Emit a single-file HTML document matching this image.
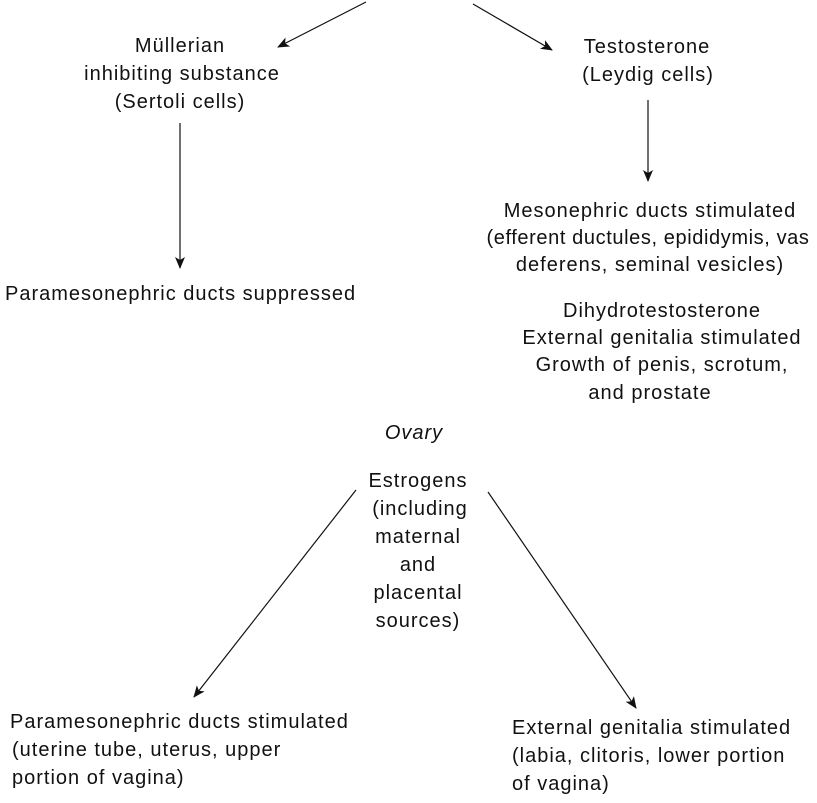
<!DOCTYPE html>
<html><head><meta charset="utf-8"><style>
html,body{margin:0;padding:0;background:#fff;}
svg text{font-family:"Liberation Sans",Arial,sans-serif;font-size:20px;letter-spacing:1px;fill:#111;}
</style></head><body>
<svg width="817" height="798" viewBox="0 0 817 798" xmlns="http://www.w3.org/2000/svg">
<defs><marker id="a" markerWidth="12" markerHeight="10" refX="11" refY="5" orient="auto" markerUnits="userSpaceOnUse"><path d="M0,0 L12,5 L0,10 L3,5 Z" fill="#111"/></marker></defs>
<g stroke="#111" stroke-width="1.2" fill="none">
<line x1="366" y1="2" x2="278" y2="47" marker-end="url(#a)"/>
<line x1="473" y1="4" x2="552" y2="50" marker-end="url(#a)"/>
<line x1="180" y1="123" x2="180" y2="268" marker-end="url(#a)"/>
<line x1="648" y1="100" x2="648" y2="181" marker-end="url(#a)"/>
<line x1="356" y1="490" x2="194" y2="697" marker-end="url(#a)"/>
<line x1="488" y1="492" x2="636" y2="708" marker-end="url(#a)"/>
</g>
<g text-anchor="middle">
<text x="180" y="52">Müllerian</text>
<text x="182" y="80">inhibiting substance</text>
<text x="180" y="108">(Sertoli cells)</text>
<text x="647" y="53">Testosterone</text>
<text x="648" y="81">(Leydig cells)</text>
<text x="650" y="217">Mesonephric ducts stimulated</text>
<text x="648" y="244" style="letter-spacing:0.6px">(efferent ductules, epididymis, vas</text>
<text x="650" y="271">deferens, seminal vesicles)</text>
<text x="662" y="317">Dihydrotestosterone</text>
<text x="662" y="344">External genitalia stimulated</text>
<text x="662" y="371">Growth of penis, scrotum,</text>
<text x="650" y="399">and prostate</text>
<text x="414" y="439" font-style="italic">Ovary</text>
<text x="418" y="487">Estrogens</text>
<text x="420" y="515">(including</text>
<text x="418" y="543">maternal</text>
<text x="418" y="571">and</text>
<text x="418" y="599">placental</text>
<text x="418" y="627">sources)</text>
</g>
<text x="5" y="300">Paramesonephric ducts suppressed</text>
<text x="10" y="728">Paramesonephric ducts stimulated</text>
<text x="12" y="756">(uterine tube, uterus, upper</text>
<text x="12" y="784">portion of vagina)</text>
<text x="512" y="734">External genitalia stimulated</text>
<text x="512" y="762">(labia, clitoris, lower portion</text>
<text x="512" y="790">of vagina)</text>
</svg>
</body></html>
